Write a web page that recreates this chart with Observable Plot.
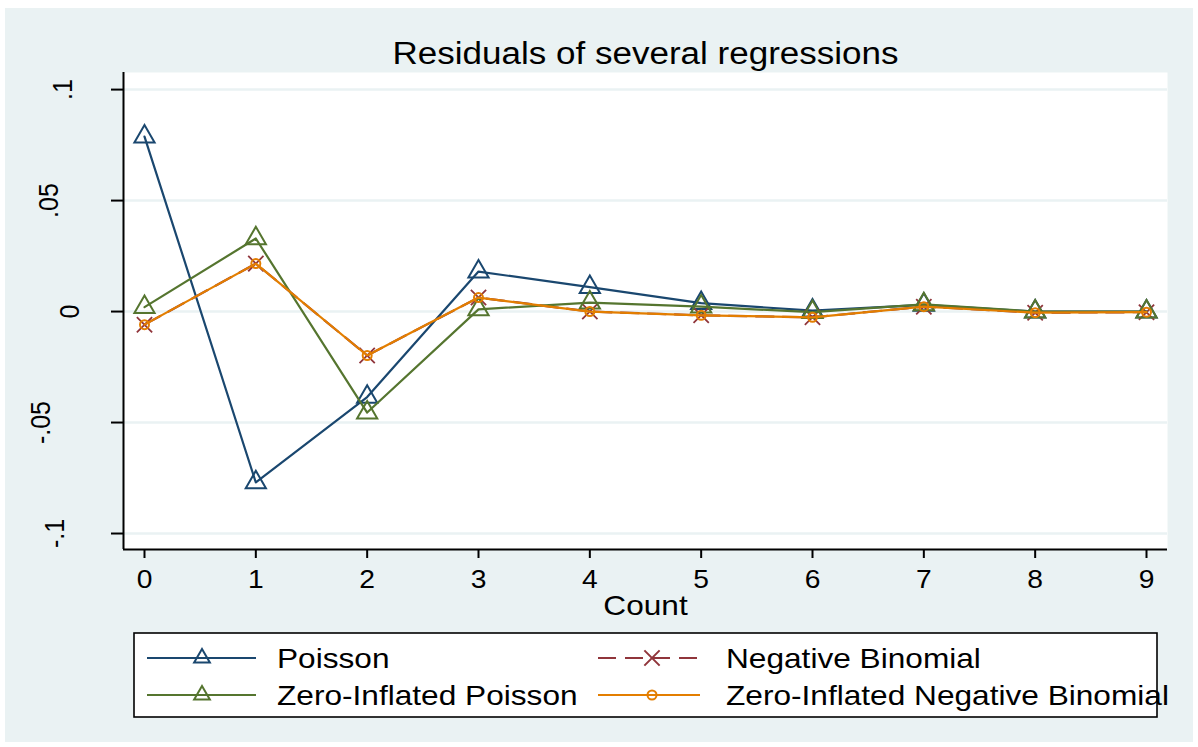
<!DOCTYPE html>
<html>
<head>
<meta charset="utf-8">
<script src="https://cdn.jsdelivr.net/npm/d3@7"></script>
<script src="https://cdn.jsdelivr.net/npm/@observablehq/plot@0.6"></script>
<style>
  html, body { margin: 0; padding: 0; background: #ffffff; }
  body { width: 1198px; height: 747px; position: relative; overflow: hidden; font-family: "Liberation Sans", Arial, sans-serif; }
  #bg { position: absolute; left: 5px; top: 8px; width: 1188px; height: 734px; background: #eaf2f3; }
  #chart { position: absolute; left: 0; top: 0; }
  #legend { position: absolute; left: 0; top: 0; pointer-events: none; }
</style>
</head>
<body>
<div id="bg"></div>
<div id="chart"></div>
<svg id="legend" width="1198" height="747"></svg>
<script>
// ---------------- data ----------------
const counts = [0, 1, 2, 3, 4, 5, 6, 7, 8, 9];
const poisson = [0.0788, -0.0770, -0.0385, 0.0180, 0.0110, 0.0038, 0.0004, 0.0030, 0.0000, 0.0000];
const negbin  = [-0.0059, 0.0216, -0.0198, 0.0063, 0.0000, -0.0017, -0.0026, 0.0022, -0.0005, -0.0003];
const zip     = [0.0020, 0.0329, -0.0455, 0.0010, 0.0040, 0.0022, -0.0003, 0.0032, 0.0000, 0.0000];
const zinb    = [-0.0059, 0.0216, -0.0198, 0.0063, 0.0000, -0.0017, -0.0026, 0.0022, -0.0005, -0.0003];
const seriesNames = ["Poisson", "Negative Binomial", "Zero-Inflated Poisson", "Zero-Inflated Negative Binomial"];
const yTicks = [-0.1, -0.05, 0, 0.05, 0.1];
const yTickLabels = ["-.1", "-.05", "0", ".05", ".1"];
const xTicks = counts;
const titleText = "Residuals of several regressions";
const xLabel = "Count";

// ---------------- styles ----------------
const colors = {
  "Poisson": "#1a476f",
  "Negative Binomial": "#90353b",
  "Zero-Inflated Poisson": "#55752f",
  "Zero-Inflated Negative Binomial": "#e37e00"
};
const GRID = "#eaf2f3";
const STRETCH = 1.13;
const xDomain = [-0.1886, 9.1886];
const yDomain = [-0.1072, 0.1077];

const seriesValues = [poisson, negbin, zip, zinb];
const rows = seriesNames.map((s, k) => counts.map((c, i) => ({count: c, value: seriesValues[k][i], series: s})));

const symbolOf = {
  "Poisson": {symbol: "triangle", r: 7.5},
  "Negative Binomial": {symbol: "times", r: 7},
  "Zero-Inflated Poisson": {symbol: "triangle", r: 7.5},
  "Zero-Inflated Negative Binomial": {symbol: "circle", r: 4.5}
};

const seriesMarks = [];
rows.forEach((data, k) => {
  const s = seriesNames[k];
  seriesMarks.push(Plot.line(data, {
    x: "count", y: "value", stroke: colors[s], strokeWidth: 2.2,
    strokeDasharray: s === "Negative Binomial" ? "18,9" : null
  }));
  seriesMarks.push(Plot.dot(data, {
    x: "count", y: "value", symbol: symbolOf[s].symbol, r: symbolOf[s].r,
    stroke: colors[s], fill: "none", strokeWidth: s === "Negative Binomial" ? 1.8 : 2
  }));
});

const plot = Plot.plot({
  width: 1198,
  height: 620,
  marginLeft: 123,
  marginRight: 31,
  marginTop: 72,
  marginBottom: 71,
  style: {background: "transparent", fontFamily: "'Liberation Sans', Arial, sans-serif", color: "black", overflow: "visible"},
  x: {domain: xDomain, label: null},
  y: {domain: yDomain, label: null},
  marks: [
    Plot.frame({fill: "white"}),
    Plot.gridY(yTicks, {stroke: GRID, strokeOpacity: 1, strokeWidth: 2.5}),
    Plot.axisX(xTicks, {tickSize: 9, tickPadding: 12, fontSize: 25, strokeWidth: 2, label: null, tickFormat: d => String(d)}),
    Plot.axisY(yTicks, {tickSize: 12, tickPadding: 18.5, tickRotate: -90, textAnchor: "middle", lineAnchor: "bottom",
      fontSize: 25, strokeWidth: 2, label: null, tickFormat: d => yTickLabels[yTicks.indexOf(d)]}),
    Plot.ruleX([xDomain[0]], {stroke: "black", strokeWidth: 2}),
    Plot.ruleY([yDomain[0]], {stroke: "black", strokeWidth: 2}),
    ...seriesMarks,
    Plot.text([xLabel], {frameAnchor: "bottom", dy: 65, lineAnchor: "bottom", fontSize: 28, fill: "black"}),
    Plot.text([titleText], {frameAnchor: "top", dy: -9, lineAnchor: "bottom", fontSize: 31, fill: "black"})
  ]
});
document.getElementById("chart").appendChild(plot);

// horizontal stretch of the text glyphs (the reference is rendered wider than tall);
// rotated y labels are placed like Stata does: baseline moves left by the label's length
plot.querySelectorAll("text").forEach(t => {
  const tr = t.getAttribute("transform") || "";
  const rotated = /rotate/.test(tr);
  if (rotated) {
    const L = t.getComputedTextLength();
    t.setAttribute("transform", `${tr} translate(0,${-L}) scale(1,${STRETCH})`);
  } else {
    t.setAttribute("transform", `${tr} scale(${STRETCH},1)`);
  }
});

// ---------------- legend ----------------
const lg = d3.select("#legend");
lg.append("rect").attr("x", 134).attr("y", 633).attr("width", 1023).attr("height", 84)
  .attr("fill", "white").attr("stroke", "black").attr("stroke-width", 1.6);
const legendPos = [
  {line: [147, 256], mark: 202, text: 277, y: 658},
  {line: [598, 700], mark: 652, text: 726, y: 658},
  {line: [147, 256], mark: 202, text: 277, y: 695},
  {line: [598, 700], mark: 652, text: 726, y: 695}
];
const symbols = {triangle: d3.symbolTriangle2, times: d3.symbolTimes, circle: d3.symbolCircle};
seriesNames.forEach((s, k) => {
  const p = legendPos[k];
  lg.append("line").attr("x1", p.line[0]).attr("x2", p.line[1]).attr("y1", p.y).attr("y2", p.y)
    .attr("stroke", colors[s]).attr("stroke-width", 2.2)
    .attr("stroke-dasharray", s === "Negative Binomial" ? "18,9" : null);
  const sym = symbolOf[s];
  lg.append("path").attr("transform", `translate(${p.mark},${p.y})`)
    .attr("d", d3.symbol(symbols[sym.symbol], sym.r * sym.r * Math.PI)())
    .attr("fill", "none").attr("stroke", colors[s]).attr("stroke-width", 2);
  lg.append("text").attr("transform", `translate(${p.text},${p.y + 10}) scale(${STRETCH},1)`)
    .attr("font-size", 28).attr("font-family", "'Liberation Sans', Arial, sans-serif").attr("fill", "black")
    .text(s);
});
</script>
</body>
</html>
